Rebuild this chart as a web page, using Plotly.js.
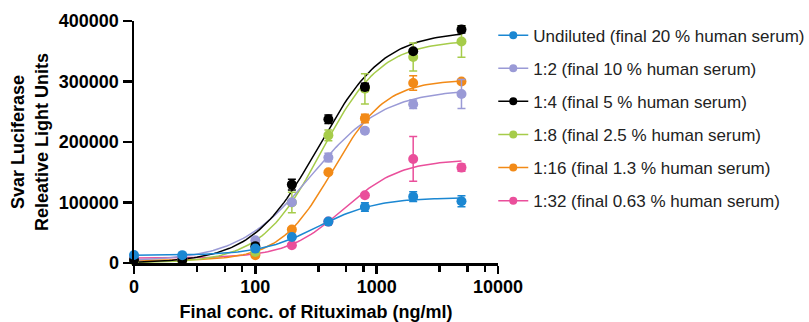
<!DOCTYPE html>
<html>
<head>
<meta charset="utf-8">
<script src="https://cdn.plot.ly/plotly-3.0.1.min.js"></script>
<style>html,body{margin:0;padding:0;background:#fff;}#chart{width:809px;height:322px;}</style>
</head>
<body>
<div id="chart"></div>
<script>
// Concentrations (ng/ml); 0 is drawn at the axis origin (position of 10 on the log axis)
const conc = [0, 25, 100, 200, 400, 800, 2000, 5000];
const seriesNames = [
  "Undiluted (final 20 % human serum)",
  "1:2 (final 10 % human serum)",
  "1:4 (final 5 % human serum)",
  "1:8 (final 2.5 % human serum)",
  "1:16 (final 1.3 % human serum)",
  "1:32 (final 0.63 % human serum)"
];
const colors = ["#1b87d2", "#9a9ad6", "#000000", "#a6cc4a", "#f28a17", "#ea4f9b"];

// Mean RLU values
const undiluted = [13200, 13000, 23800, 43000, 68400, 92600, 109700, 102000];
const dil2      = [8000, 7300, 37500, 100300, 174200, 218800, 262300, 279300];
const dil4      = [5000, 5000, 27600, 129600, 237500, 291000, 350000, 386000];
const dil8      = [4000, 4000, 18200, 100000, 211000, 288000, 340500, 366000];
const dil16     = [5000, 5000, 12700, 55200, 150000, 239000, 297500, 300000];
const dil32     = [7000, 6500, 15000, 29200, 68400, 112000, 172000, 157700];

// Error (SD)
const errUndiluted = [0, 0, 3000, 2000, 2000, 7000, 8000, 9000];
const err2         = [0, 0, 2000, 2000, 7000, 3000, 7000, 24000];
const err4         = [0, 0, 5000, 9000, 7000, 6000, 3000, 6000];
const err8         = [0, 0, 2000, 17000, 9000, 25000, 23000, 26000];
const err16        = [0, 0, 2000, 2000, 2000, 7000, 12000, 3000];
const err32        = [0, 0, 2000, 2000, 2000, 3000, 37000, 6000];

// Four-parameter logistic fit parameters
const fitBottom = [12500, 3000, 0, 0, 4000, 8000];
const fitTop    = [108000, 287000, 383000, 368000, 303000, 171000];
const fitEC50   = [330, 290, 330, 350, 435, 534];
const fitHill   = [1.8, 1.45, 1.6, 1.75, 2.0, 1.85];

const means = [undiluted, dil2, dil4, dil8, dil16, dil32];
const errs  = [errUndiluted, err2, err4, err8, err16, err32];

const ZERO_POS = 10;
const xPlot = conc.map(c => c === 0 ? ZERO_POS : c);

function curve(i) {
  const xs = [], ys = [];
  const n = 120, lo = Math.log10(ZERO_POS), hi = Math.log10(5000);
  for (let k = 0; k <= n; k++) {
    const x = Math.pow(10, lo + (hi - lo) * k / n);
    xs.push(x);
    ys.push(fitBottom[i] + (fitTop[i] - fitBottom[i]) / (1 + Math.pow(fitEC50[i] / x, fitHill[i])));
  }
  return {xs, ys};
}

const traces = [];
// legend-only entries
seriesNames.forEach((name, i) => {
  traces.push({
    type: "scatter", mode: "lines+markers", x: [null], y: [null], name: name,
    legendgroup: "g" + i,
    line: {color: colors[i], width: 1.5},
    marker: {color: colors[i], size: 8},
    hoverinfo: "skip"
  });
});
// draw order: last series first so Undiluted is on top
const drawOrder = [5, 4, 3, 1, 2, 0];
drawOrder.forEach(i => {
  const c = curve(i);
  traces.push({
    type: "scatter", mode: "lines", x: c.xs, y: c.ys, showlegend: false,
    line: {color: colors[i], width: 1.5}, hoverinfo: "skip", cliponaxis: false
  });
});
drawOrder.forEach(i => {
  traces.push({
    type: "scatter", mode: "markers", x: xPlot, y: means[i], showlegend: false,
    marker: {color: colors[i], size: 10},
    error_y: {type: "data", array: errs[i], visible: true, color: colors[i], thickness: 1.5, width: 4},
    cliponaxis: false
  });
});

const FONT = "Arial, 'Liberation Sans', sans-serif";
const layout = {
  width: 809, height: 322,
  margin: {l: 134, r: 311, t: 21, b: 59, autoexpand: false},
  paper_bgcolor: "#fff", plot_bgcolor: "#fff",
  font: {family: FONT, color: "#000"},
  showlegend: true,
  legend: {
    x: 0.987, xanchor: "left", y: 1.014, yanchor: "top",
    font: {family: FONT, size: 17, color: "#222"},
    traceorder: "grouped", tracegroupgap: 8,
    itemwidth: 30, bgcolor: "rgba(0,0,0,0)", maxheight: 322
  },
  xaxis: {
    type: "log", range: [1, 4],
    tickmode: "array", tickvals: [10, 100, 1000, 10000], ticktext: ["0", "100", "1000", "10000"],
    ticks: "outside", ticklen: 8, tickwidth: 2.5, tickcolor: "#000",
    ticklabelstandoff: -2,
    showline: true, linewidth: 2.5, linecolor: "#000",
    showgrid: false, zeroline: false,
    minor: {tickmode: "array", tickvals: [33, 56, 78, 330, 560, 780, 3300, 5600, 7800], ticks: "outside", ticklen: 6, tickwidth: 2.5, tickcolor: "#000", showgrid: false},
    tickfont: {family: FONT, size: 18, weight: "bold", color: "#000"},
    title: {text: "Final conc. of Rituximab (ng/ml)", font: {family: FONT, size: 18, weight: "bold", color: "#000"}, standoff: 14},
    automargin: false
  },
  yaxis: {
    range: [0, 400000],
    tickmode: "array", tickvals: [0, 100000, 200000, 300000, 400000],
    ticktext: ["0", "100000", "200000", "300000", "400000"],
    ticks: "outside", ticklen: 9, tickwidth: 2.5, tickcolor: "#000",
    showline: true, linewidth: 2.5, linecolor: "#000",
    showgrid: false, zeroline: false,
    tickfont: {family: FONT, size: 18, weight: "bold", color: "#000"},
    title: {text: "Svar Luciferase<br>Releative Light Units", font: {family: FONT, size: 18, weight: "bold", color: "#000"}, standoff: 6},
    automargin: false
  }
};

Plotly.newPlot("chart", traces, layout, {displayModeBar: false, staticPlot: true});
</script>
</body>
</html>
